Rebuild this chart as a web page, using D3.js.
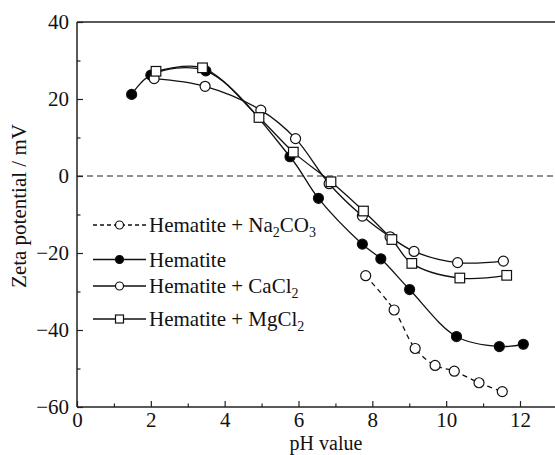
<!DOCTYPE html>
<html>
<head>
<meta charset="utf-8">
<script src="https://cdn.jsdelivr.net/npm/d3@7"></script>
<style>
  html, body { margin: 0; padding: 0; background: #fff; }
  svg { display: block; }
  svg text { font-family: "Liberation Serif", "Times New Roman", Times, serif !important; fill: #111; }
</style>
</head>
<body>
<svg id="chart" width="555" height="455" font-family="Liberation Serif, serif"></svg>
<script>
// Zeta potential of hematite vs pH, with and without added salts
const phHematite   = [1.48, 2.0, 3.49, 5.77, 6.54, 7.73, 8.23, 9.01, 10.28, 11.44, 12.09];
const zetaHematite = [21.2, 26.2, 27.3, 5.0, -5.8, -17.7, -21.5, -29.5, -41.7, -44.3, -43.7];

const phCaCl2   = [2.09, 3.47, 4.98, 5.92, 6.83, 7.73, 8.48, 9.13, 10.31, 11.55];
const zetaCaCl2 = [25.3, 23.3, 17.1, 9.7, -2.0, -10.4, -15.8, -19.6, -22.5, -22.1];

const phMgCl2   = [2.14, 3.40, 4.93, 5.86, 6.88, 7.76, 8.53, 9.07, 10.37, 11.64];
const zetaMgCl2 = [27.2, 28.1, 15.2, 6.2, -1.5, -9.1, -16.5, -22.7, -26.5, -25.8];

const phNa2CO3   = [7.82, 8.59, 9.16, 9.70, 10.22, 10.89, 11.52];
const zetaNa2CO3 = [-25.9, -34.8, -44.8, -49.2, -50.7, -53.7, -56.0];

const xMajorTicks = [0, 2, 4, 6, 8, 10, 12];
const xMinorTicks = [1, 3, 5, 7, 9, 11];
const yMajorTicks = [-60, -40, -20, 0, 20, 40];
const yMinorTicks = [-50, -30, -10, 10, 30];

const svg = d3.select("#chart");
const plotLeft = 77, plotTop = 22, plotBottom = 407, rightEdge = 555;

const x = d3.scaleLinear().domain([0, 12]).range([plotLeft, 520]);
const y = d3.scaleLinear().domain([-60, 40]).range([plotBottom, plotTop]);

const fmt = v => (v < 0 ? "\u2212" + Math.abs(v) : String(v));

// Frame lines: left, bottom, top (open on the right)
const frame = svg.append("g").attr("stroke", "#222").attr("stroke-width", 1.5).attr("fill", "none");
frame.append("line").attr("x1", plotLeft).attr("x2", plotLeft).attr("y1", plotTop).attr("y2", plotBottom);
frame.append("line").attr("x1", plotLeft).attr("x2", rightEdge).attr("y1", plotBottom).attr("y2", plotBottom);
frame.append("line").attr("x1", plotLeft).attr("x2", rightEdge).attr("y1", plotTop).attr("y2", plotTop);

// X axis (ticks point inward)
const xAxis = svg.append("g").attr("transform", `translate(0,${plotBottom})`)
  .call(d3.axisBottom(x).tickValues(xMajorTicks).tickSize(-6).tickSizeOuter(0).tickPadding(10).tickFormat(fmt));
xAxis.attr("font-family", null).attr("font-size", null);
xAxis.select(".domain").remove();
xAxis.selectAll(".tick line").attr("stroke", "#222").attr("stroke-width", 1.2);
xAxis.selectAll(".tick text").attr("font-size", 21).attr("dy", "0.71em").attr("y", 5);

const xMinor = svg.append("g").attr("transform", `translate(0,${plotBottom})`)
  .call(d3.axisBottom(x).tickValues(xMinorTicks).tickSize(-3.5).tickSizeOuter(0).tickFormat(""));
xMinor.select(".domain").remove();
xMinor.selectAll(".tick line").attr("stroke", "#222").attr("stroke-width", 1.2);

// Y axis (ticks point inward)
const yAxis = svg.append("g").attr("transform", `translate(${plotLeft},0)`)
  .call(d3.axisLeft(y).tickValues(yMajorTicks).tickSize(-6).tickSizeOuter(0).tickPadding(8).tickFormat(fmt));
yAxis.attr("font-family", null).attr("font-size", null);
yAxis.select(".domain").remove();
yAxis.selectAll(".tick line").attr("stroke", "#222").attr("stroke-width", 1.2);
yAxis.selectAll(".tick text").attr("font-size", 21).attr("x", -8);

const yMinor = svg.append("g").attr("transform", `translate(${plotLeft},0)`)
  .call(d3.axisLeft(y).tickValues(yMinorTicks).tickSize(-3.5).tickSizeOuter(0).tickFormat(""));
yMinor.select(".domain").remove();
yMinor.selectAll(".tick line").attr("stroke", "#222").attr("stroke-width", 1.2);

// Zero reference line
svg.append("line")
  .attr("x1", plotLeft).attr("x2", rightEdge)
  .attr("y1", y(0)).attr("y2", y(0))
  .attr("stroke", "#222").attr("stroke-width", 1).attr("stroke-dasharray", "6,4");

// Axis titles
svg.append("text").attr("x", 326).attr("y", 450).attr("text-anchor", "middle")
  .attr("font-size", 20).text("pH value");
svg.append("text").attr("transform", "translate(26,206) rotate(-90)").attr("text-anchor", "middle")
  .attr("font-size", 21).text("Zeta potential / mV");

// Series
const series = [
  { ph: phHematite, zeta: zetaHematite, marker: "circle", fill: "#000", dash: null },
  { ph: phCaCl2, zeta: zetaCaCl2, marker: "circle", fill: "#fff", dash: null },
  { ph: phMgCl2, zeta: zetaMgCl2, marker: "square", fill: "#fff", dash: null },
  { ph: phNa2CO3, zeta: zetaNa2CO3, marker: "circle", fill: "#fff", dash: "5,4" }
];

const line = d3.line().x(d => x(d[0])).y(d => y(d[1])).curve(d3.curveCatmullRom.alpha(0.5));

series.forEach(s => {
  const pts = s.ph.map((p, i) => [p, s.zeta[i]]);
  svg.append("path").datum(pts).attr("d", line)
    .attr("fill", "none").attr("stroke", "#111").attr("stroke-width", 1.3)
    .attr("stroke-dasharray", s.dash);
});

function drawMarker(g, kind, cx, cy, fill, size) {
  if (kind === "circle") {
    g.append("circle").attr("cx", cx).attr("cy", cy).attr("r", size)
      .attr("fill", fill).attr("stroke", "#111").attr("stroke-width", 1.2);
  } else {
    g.append("rect").attr("x", cx - size).attr("y", cy - size)
      .attr("width", size * 2).attr("height", size * 2)
      .attr("fill", fill).attr("stroke", "#111").attr("stroke-width", 1.2);
  }
}

const markers = svg.append("g");
series.forEach(s => {
  s.ph.forEach((p, i) => drawMarker(markers, s.marker, x(p), y(s.zeta[i]), s.fill, s.marker === "circle" ? 5 : 4.8));
});

// Legend
const legendItems = [
  { label: ["Hematite + Na", "2", "CO", "3"], marker: "circle", fill: "#fff", dash: "4,3", yPos: 225 },
  { label: ["Hematite"], marker: "circle", fill: "#000", dash: null, yPos: 259.5 },
  { label: ["Hematite + CaCl", "2"], marker: "circle", fill: "#fff", dash: null, yPos: 286 },
  { label: ["Hematite + MgCl", "2"], marker: "square", fill: "#fff", dash: null, yPos: 319 }
];
const legend = svg.append("g");
legendItems.forEach(it => {
  legend.append("line").attr("x1", 93).attr("x2", 146).attr("y1", it.yPos).attr("y2", it.yPos)
    .attr("stroke", "#111").attr("stroke-width", 1.3).attr("stroke-dasharray", it.dash);
  drawMarker(legend, it.marker, 119.5, it.yPos, it.fill, 4);
  const t = legend.append("text").attr("x", 149).attr("y", it.yPos + 7).attr("font-size", 21);
  it.label.forEach((part, i) => {
    const sub = i % 2 === 1;
    t.append("tspan").text(part)
      .attr("font-size", sub ? 14 : 21)
      .attr("dy", sub ? 5 : (i > 0 ? -5 : 0));
  });
});
</script>
</body>
</html>
